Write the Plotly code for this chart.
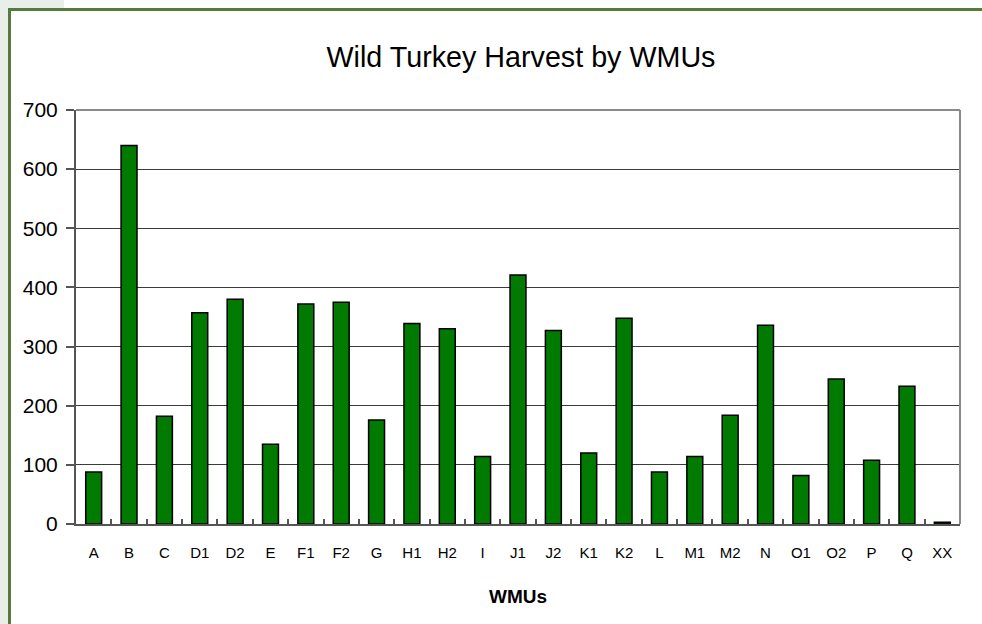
import plotly.graph_objects as go

categories = ["A", "B", "C", "D1", "D2", "E", "F1", "F2", "G", "H1", "H2", "I", "J1",
              "J2", "K1", "K2", "L", "M1", "M2", "N", "O1", "O2", "P", "Q", "XX"]
harvest = [88, 640, 182, 357, 380, 135, 372, 375, 176, 339, 330, 114, 421,
           327, 120, 348, 88, 114, 184, 336, 82, 245, 108, 233, 3]
y_ticks = [0, 100, 200, 300, 400, 500, 600, 700]

W, H = 982, 624
L, R, T, B = 76, 960, 110, 524

def px(x):
    return (x - L) / (R - L)

def py(y):
    return (B - y) / (B - T)

sans = "Liberation Sans, Arial, sans-serif"

fig = go.Figure()
fig.add_trace(go.Bar(
    x=categories, y=harvest, width=0.45,
    marker=dict(color="#007a00", line=dict(color="#000000", width=1.5)),
    hoverinfo="x+y",
))

frame = "#567a3c"
shapes = [
    dict(type="rect", xref="paper", yref="paper", x0=px(0), x1=px(8), y0=py(0), y1=py(H),
         fillcolor="#e9eee9", line=dict(width=0), layer="below"),
    dict(type="rect", xref="paper", yref="paper", x0=px(0), x1=px(64), y0=py(0), y1=py(8),
         fillcolor="#e9eee9", line=dict(width=0), layer="below"),
    dict(type="line", xref="paper", yref="paper", x0=px(9.5), x1=px(9.5), y0=py(8), y1=py(H),
         line=dict(color=frame, width=3)),
    dict(type="line", xref="paper", yref="paper", x0=px(8), x1=px(W), y0=py(9.5), y1=py(9.5),
         line=dict(color=frame, width=3)),
    dict(type="line", xref="paper", yref="paper", x0=0, x1=1, y0=1, y1=1,
         line=dict(color="#8a8a8a", width=2)),
    dict(type="line", xref="paper", yref="paper", x0=1, x1=1, y0=0, y1=1,
         line=dict(color="#8a8a8a", width=2)),
]

fig.update_layout(
    width=W, height=H,
    margin=dict(l=L, r=W - R, t=T, b=H - B, pad=0),
    paper_bgcolor="white", plot_bgcolor="white",
    showlegend=False,
    shapes=shapes,
    title=dict(text="Wild Turkey Harvest by WMUs",
               font=dict(family=sans, size=28.7, color="#000"),
               xref="paper", x=px(521), xanchor="center",
               yref="container", y=1 - 57 / H, yanchor="middle"),
    xaxis=dict(
        type="category",
        showline=True, linecolor="#555555", linewidth=2,
        ticks="inside", tickson="boundaries", ticklen=5, tickwidth=1.5, tickcolor="#555555",
        tickfont=dict(family=sans, size=15, color="#000"),
        ticklabelstandoff=14,
        showgrid=False,
        title=dict(text="<b>WMUs</b>", font=dict(family=sans, size=19, color="#000"), standoff=30),
    ),
    yaxis=dict(
        range=[0, 700], tickvals=y_ticks,
        showline=True, linecolor="#555555", linewidth=2,
        ticks="outside", ticklen=8, tickwidth=1.5, tickcolor="#555555",
        tickfont=dict(family=sans, size=21, color="#000"),
        ticklabelstandoff=4,
        showgrid=True, gridcolor="#3c3c3c", gridwidth=1.3,
        zeroline=False,
    ),
)

fig.write_html("out.html", config={"displayModeBar": False},
               post_script="document.body.style.margin='0';document.body.style.overflow='hidden';")
